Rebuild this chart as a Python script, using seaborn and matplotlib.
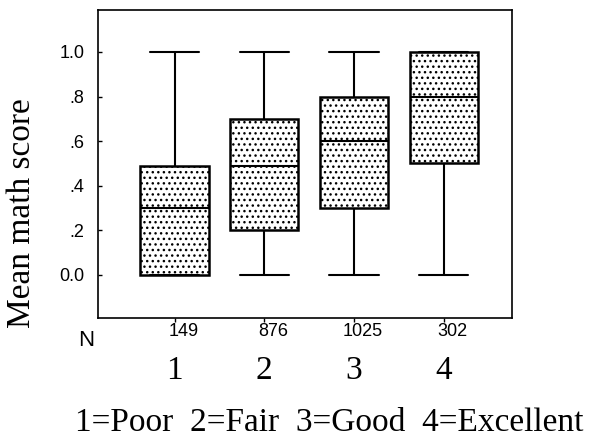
import pandas as pd
import matplotlib.pyplot as plt
import matplotlib.transforms as mtransforms
import seaborn as sns

# Five-number summaries (min, Q1, median, Q3, max)
ratings = ["1", "2", "3", "4"]
poor = [0.0, 0.0, 0.30, 0.49, 1.0]
fair = [0.0, 0.20, 0.49, 0.70, 1.0]
good = [0.0, 0.30, 0.60, 0.80, 1.0]
excellent = [0.0, 0.50, 0.80, 1.0, 1.0]
counts = [149, 876, 1025, 302]
ytick_vals = [0.0, 0.2, 0.4, 0.6, 0.8, 1.0]
ytick_labels = ["0.0", ".2", ".4", ".6", ".8", "1.0"]
legend_text = "1=Poor  2=Fair  3=Good  4=Excellent"

rows = []
for r, vals in zip(ratings, [poor, fair, good, excellent]):
    for v in vals:
        rows.append({"rating": r, "score": v})
df = pd.DataFrame(rows)

sns.set_style("ticks")
plt.rcParams["font.family"] = ["Liberation Sans", "DejaVu Sans"]
plt.rcParams["text.color"] = "black"
plt.rcParams["xtick.color"] = "black"
plt.rcParams["ytick.color"] = "black"
plt.rcParams["hatch.linewidth"] = 1.0

fig = plt.figure(figsize=(5.93, 4.37), dpi=100)
ax = fig.add_axes([0.1653, 0.2723, 0.698, 0.7048])

sns.boxplot(data=df, x="rating", y="score", order=ratings, whis=(0, 100),
            width=0.76, color="white", linecolor="black", linewidth=1.5,
            capwidths=0.55, ax=ax)

# stippled look of the printed boxes
for p in ax.patches:
    p.set_hatch("...")
    p.set_edgecolor("black")
    p.set_linewidth(1.8)

ax.set_xlim(-0.853, 3.76)
ax.set_ylim(-0.193, 1.188)
ax.set_yticks(ytick_vals)
ax.set_yticklabels(ytick_labels, fontsize=13, color="black")
ax.set_xticks(range(len(ratings)))
ax.set_xticklabels([])
ax.set_xlabel("")
ax.set_ylabel("")
ax.tick_params(axis="y", direction="in", length=3, width=1, pad=10)
ax.tick_params(axis="x", direction="out", length=3, width=1)
for s in ax.spines.values():
    s.set_visible(True)
    s.set_color("black")
    s.set_linewidth(1.2)

trans = mtransforms.blended_transform_factory(ax.transData, fig.transFigure)
for i, (r, n) in enumerate(zip(ratings, counts)):
    ax.text(i + 0.1, 1 - 332 / 437, str(n), transform=trans, ha="center",
            va="center", fontsize=13, color="black")
    ax.text(i, 1 - 371 / 437, r, transform=trans, ha="center", va="center",
            fontsize=24, family="Liberation Serif", color="black")
fig.text(86 / 593, 1 - 340 / 437, "N", ha="center", va="center", fontsize=16,
         color="black")
fig.text(329 / 593, 1 - 423 / 437, legend_text, ha="center", va="center",
         fontsize=24, family="Liberation Serif", color="black")
fig.text(22 / 593, 0.5114, "Mean math score", rotation=90, ha="center",
         va="center", fontsize=24, family="Liberation Serif", color="black")

fig.savefig("out.png", dpi=100)
